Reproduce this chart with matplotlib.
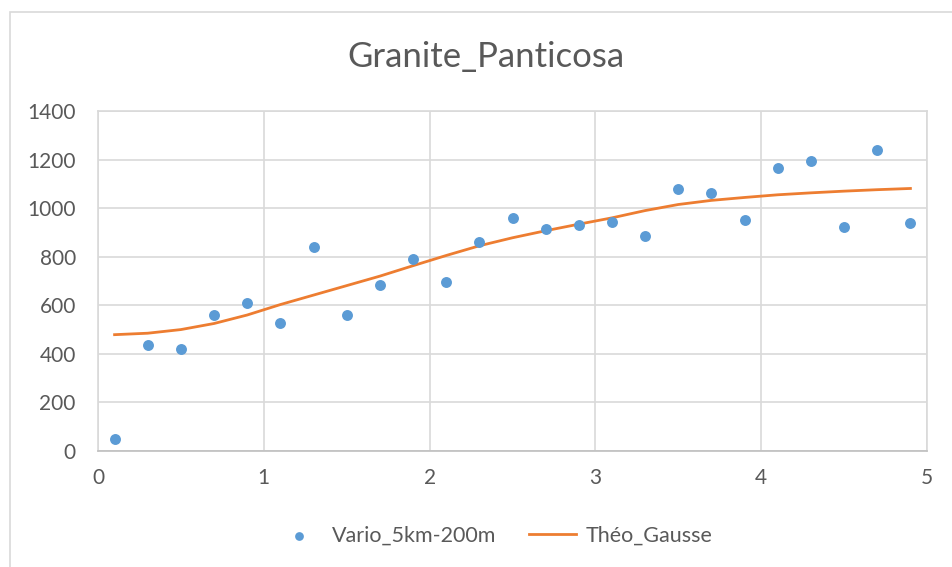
import matplotlib

matplotlib.use("Agg")
import matplotlib.pyplot as plt
from matplotlib.patches import Rectangle

# lag distances (km)
lags = [0.1, 0.3, 0.5, 0.7, 0.9, 1.1, 1.3, 1.5, 1.7, 1.9, 2.1, 2.3, 2.5,
        2.7, 2.9, 3.1, 3.3, 3.5, 3.7, 3.9, 4.1, 4.3, 4.5, 4.7, 4.9]
# experimental variogram
vario = [49, 436, 419, 561, 608, 526, 840, 561, 683, 789, 696, 860, 960,
         914, 930, 941, 884, 1077, 1062, 951, 1164, 1195, 924, 1239, 939]
# theoretical gaussian model
theo = [479, 485, 500, 525, 560, 603, 642, 681, 720, 763, 805, 845, 878,
        907, 934, 960, 990, 1015, 1032, 1044, 1055, 1063, 1070, 1076, 1081]

title = "Granite_Panticosa"
label_vario = "Vario_5km-200m"
label_theo = "Théo_Gausse"

BLUE = "#5B9BD5"
ORANGE = "#ED7D31"
GREY_TXT = "#595959"
GRID = "#D9D9D9"

plt.rcParams["font.family"] = ["Lato", "DejaVu Sans"]

fig = plt.figure(figsize=(9.52, 5.67), dpi=100)
ax = fig.add_axes([98 / 952, 1 - 451 / 567, 829 / 952, 340 / 567])

# outer chart border (partly cropped in the reference)
fig.patches.append(Rectangle((10 / 952, -0.1), 1.2, 1 - 12 / 567 + 0.1,
                             transform=fig.transFigure, fill=False,
                             edgecolor="#D9D9D9", linewidth=1.2))

ax.scatter(lags, vario, s=62, color=BLUE, zorder=3, label=label_vario,
           linewidths=0)
ax.plot(lags, theo, color=ORANGE, linewidth=2.0, zorder=2, label=label_theo)

ax.set_xlim(0, 5)
ax.set_ylim(0, 1400)
ax.set_xticks(range(0, 6))
ax.set_yticks(range(0, 1401, 200))
ax.grid(True, color=GRID, linewidth=1.2)
ax.set_axisbelow(True)
for side in ("top", "right", "left"):
    ax.spines[side].set_color(GRID)
    ax.spines[side].set_linewidth(1.2)
ax.spines["bottom"].set_color("#BFBFBF")
ax.spines["bottom"].set_linewidth(1.2)
ax.tick_params(length=0, labelsize=15, labelcolor=GREY_TXT)
ax.tick_params(axis="y", pad=16)
ax.tick_params(axis="x", pad=12)

fig.text(486 / 952, 1 - 57 / 567, title, ha="center", va="center",
         fontsize=25, color=GREY_TXT)

fig.legend(loc="center", bbox_to_anchor=(494 / 952, 1 - 536 / 567), ncol=2,
           frameon=False, fontsize=15.5, labelcolor=GREY_TXT,
           handlelength=2.2, columnspacing=1.5, handletextpad=0.45,
           markerscale=0.8)

fig.savefig("out.png", dpi=100, facecolor="white")
